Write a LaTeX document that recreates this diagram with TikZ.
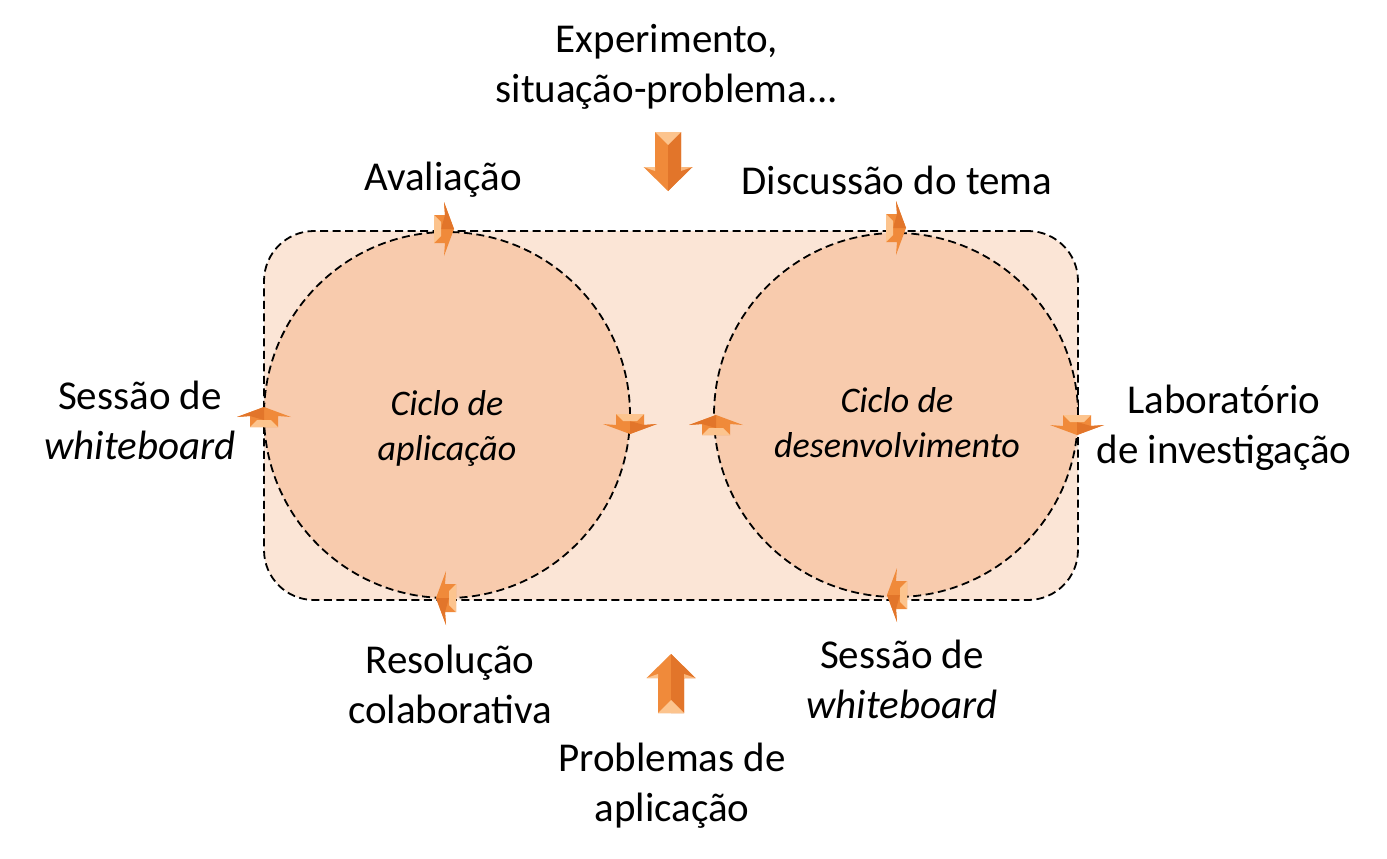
\documentclass[tikz,border=0pt]{standalone}
\usepackage{fontspec}
\setmainfont{Carlito}
\definecolor{rectfill}{HTML}{FBE5D6}
\definecolor{circfill}{HTML}{F8CBAD}
\definecolor{aor}{HTML}{F08A3A}
\definecolor{adk}{HTML}{E2752A}
\definecolor{alt}{HTML}{FCC48E}
\tikzset{
  dline/.style={draw=black, line width=1.8pt, dash pattern=on 8pt off 4.5pt},
  lbl/.style={font=\fontsize{41}{50}\selectfont, align=center, inner sep=0pt},
  ilbl/.style={font=\fontsize{36}{45}\selectfont\itshape, align=center, inner sep=0pt},
  sarrow/.pic={
    \fill[aor] (-10,-14)--(1,-14)--(0,-27)--(10,0)--(0,27)--(1,14)--(-10,14)--cycle;
    \fill[adk] (1,-14)--(0,-27)--(10,0)--(-3,0)--cycle;
    \fill[alt] (-10,-14)--(-3,-7)--(-3,7)--(-10,14)--cycle;
  },
  barrow/.pic={
    % pointing down, origin at center of shaft top
    \fill[aor] (-13,0)--(13,0)--(13,35)--(24.5,35)--(0,59)--(-24.5,35)--(-13,35)--cycle;
    \fill[adk] (0,0)--(13,0)--(13,35)--(24.5,35)--(0,59)--cycle;
    \fill[alt] (-13,0)--(13,0)--(0,13)--cycle;
    \fill[alt] (-24.5,35)--(-13,35)--(-13,39)--cycle;
    \fill[alt!80!aor] (24.5,35)--(13,35)--(13,39)--cycle;
  }
}
\begin{document}
\begin{tikzpicture}[x=1pt,y=-1pt]
\useasboundingbox (0,0) rectangle (1387,859);
\fill[white] (0,0) rectangle (1387,859);

\node[dline, fill=rectfill, rounded corners=50pt, minimum width=814pt, minimum height=369pt, inner sep=0pt] (frame) at (671,415.5) {};
\node[dline, fill=circfill, circle, minimum size=366pt, inner sep=0pt] (cL) at (447,415) {};
\node[dline, fill=circfill, circle, minimum size=364pt, inner sep=0pt] (cR) at (896,415) {};

\node[ilbl] (tL) at (447,428) {Ciclo de\\aplicação};
\node[ilbl] (tR) at (897,423) {Ciclo de\\desenvolvimento};

\node[lbl] (exp) at (667,67) {Experimento,\\situação-problema...};
\node[lbl] (aval) at (443,180) {Avaliação};
\node[lbl] (disc) at (897,180) {Discussão do tema};
\node[lbl] (sw1) at (140,420) {Sessão de\\\textit{whiteboard}};
\node[lbl] (lab) at (1224,428) {Laboratório\\de investigação};
\node[lbl] (res) at (450,684) {Resolução\\colaborativa};
\node[lbl] (sw2) at (902,679) {Sessão de\\\textit{whiteboard}};
\node[lbl] (prob) at (672,786) {Problemas de\\aplicação};

% small cycle arrows
\pic at (444,229) {sarrow};
\pic[rotate=90] at (264,417) {sarrow};
\pic[rotate=-90] at (630,424) {sarrow};
\pic[rotate=180] at (446,598) {sarrow};
\pic at (896,228) {sarrow};
\pic[rotate=-90] at (1077,425) {sarrow};
\pic[rotate=180] at (897,595) {sarrow};
\pic[rotate=90] at (716,425) {sarrow};

% big arrows
\pic at (668,132) {barrow};
\pic[yscale=-1] at (671,713) {barrow};
\end{tikzpicture}
\end{document}
